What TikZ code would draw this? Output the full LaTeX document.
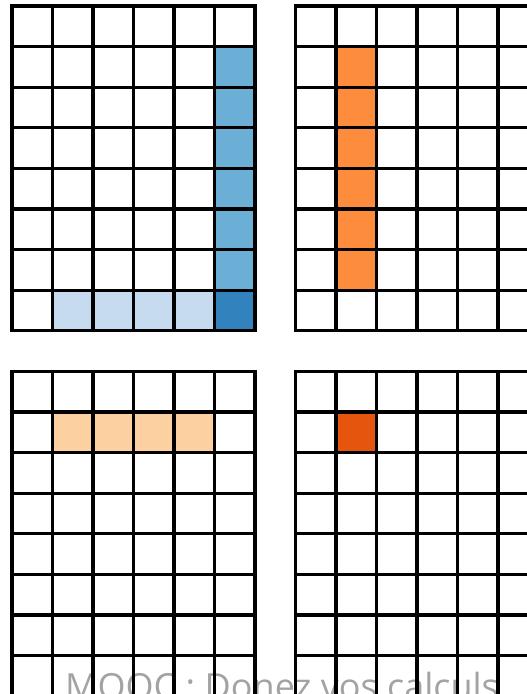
\documentclass[tikz,border=0pt]{standalone}
\usepackage{fontspec}
\setmainfont{Open Sans}
\usepackage{xcolor}
\definecolor{BlueMid}{HTML}{6BAED6}
\definecolor{BluePale}{HTML}{C6DBEF}
\definecolor{BlueDark}{HTML}{3182BD}
\definecolor{OrangeMid}{HTML}{FD8D3C}
\definecolor{OrangePale}{HTML}{FDD0A2}
\definecolor{OrangeDark}{HTML}{E6550D}
\definecolor{MarkGray}{HTML}{A3A3A3}
\usepackage{tikz}

\begin{document}
\begin{tikzpicture}[x=40.5pt, y=-40.6pt]
\tikzset{gridline/.style={line width=3.1pt, line cap=rect, black}}
\tikzset{watermark/.style={text=MarkGray, font=\fontsize{36}{40}\selectfont, anchor=base, inner sep=0pt}}
\useasboundingbox (-0.296,-0.148) rectangle (12.716,16.946);
\clip (-0.296,-0.148) rectangle (12.716,16.946);
% watermark under the grids
\node[watermark] (mooc) at (6.667,17.08) {MOOC : Donez vos calculs};
% top left: column and bottom row
\foreach \j in {1,...,6} \fill[BlueMid] (5,\j) rectangle (6,\j+1);
\foreach \i in {1,...,4} \fill[BluePale] (\i,7) rectangle (\i+1,8);
\fill[BlueDark] (5,7) rectangle (6,8);
% top right
\foreach \j in {1,...,6} \fill[OrangeMid] (8,\j) rectangle (9,\j+1);
% bottom left
\foreach \i in {1,...,4} \fill[OrangePale] (\i,10) rectangle (\i+1,11);
% bottom right
\fill[OrangeDark] (8,10) rectangle (9,11);
% the four grids
\foreach \ox/\oy in {0/0, 7/0, 0/9, 7/9} {
  \foreach \i in {0,...,6} \draw[gridline] (\ox+\i,\oy) -- (\ox+\i,\oy+8);
  \foreach \j in {0,...,8} \draw[gridline] (\ox,\oy+\j) -- (\ox+6,\oy+\j);
}
\end{tikzpicture}
\end{document}
